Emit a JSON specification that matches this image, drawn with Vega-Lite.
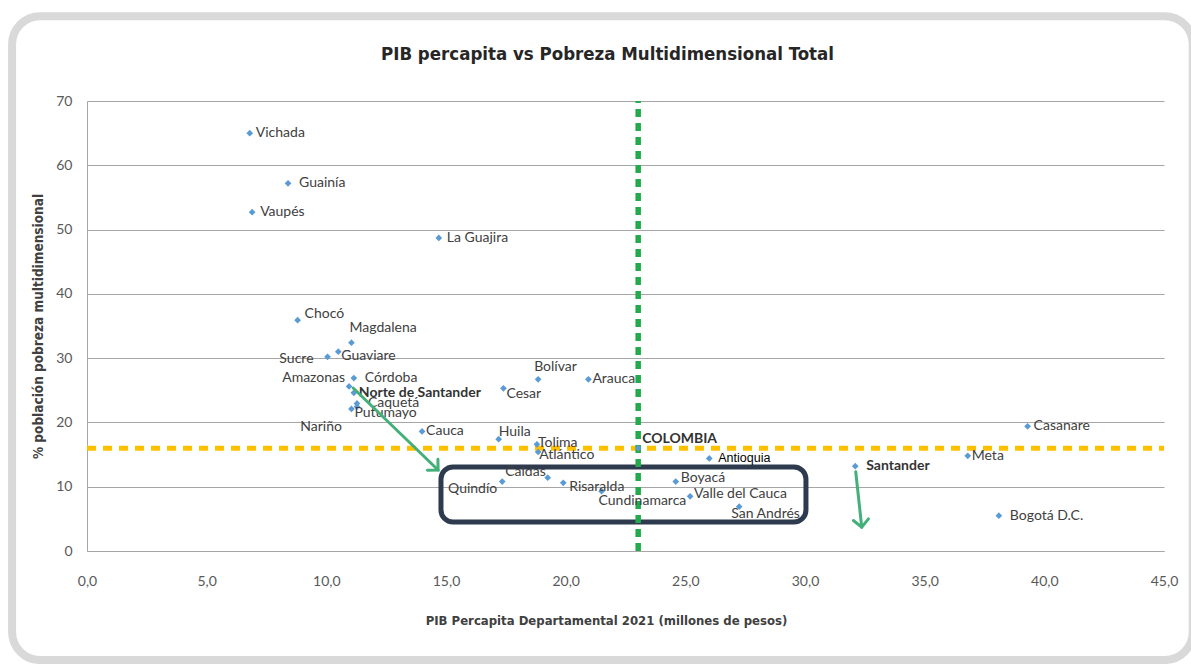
{
  "$schema": "https://vega.github.io/schema/vega-lite/v6.json",
  "width": 1077,
  "height": 450,
  "autosize": {"type": "none"},
  "padding": {"left": 87, "top": 101, "right": 27, "bottom": 113},
  "background": "white",
  "title": {
    "text": "PIB percapita vs Pobreza Multidimensional Total",
    "font": "Liberation Sans Narrow, DejaVu Sans Condensed, sans-serif",
    "fontSize": 18.5,
    "fontWeight": "bold",
    "color": "#262626",
    "anchor": "middle",
    "frame": "group",
    "dx": -18,
    "offset": -51
  },
  "datasets": {
    "deptos": [
      {"depto": "Vichada", "pib": 6.8, "ipm": 65.0},
      {"depto": "Guainía", "pib": 8.4, "ipm": 57.2},
      {"depto": "Vaupés", "pib": 6.9, "ipm": 52.7},
      {"depto": "La Guajira", "pib": 14.7, "ipm": 48.7},
      {"depto": "Chocó", "pib": 8.8, "ipm": 35.9},
      {"depto": "Magdalena", "pib": 11.05, "ipm": 32.4},
      {"depto": "Guaviare", "pib": 10.5, "ipm": 31.0},
      {"depto": "Sucre", "pib": 10.05, "ipm": 30.2},
      {"depto": "Córdoba", "pib": 11.15, "ipm": 26.9},
      {"depto": "Amazonas", "pib": 10.95, "ipm": 25.6},
      {"depto": "Norte de Santander", "pib": 11.15, "ipm": 24.6},
      {"depto": "Caquetá", "pib": 11.28, "ipm": 22.95},
      {"depto": "Nariño", "pib": 11.28, "ipm": 22.45},
      {"depto": "Putumayo", "pib": 11.05, "ipm": 22.1},
      {"depto": "Cauca", "pib": 14.0, "ipm": 18.6},
      {"depto": "Huila", "pib": 17.2, "ipm": 17.4},
      {"depto": "Bolívar", "pib": 18.85, "ipm": 26.7},
      {"depto": "Cesar", "pib": 17.4, "ipm": 25.3},
      {"depto": "Arauca", "pib": 20.95, "ipm": 26.7},
      {"depto": "Tolima", "pib": 18.8, "ipm": 16.6},
      {"depto": "Atlántico", "pib": 18.85, "ipm": 15.4},
      {"depto": "Quindío", "pib": 17.35, "ipm": 10.8},
      {"depto": "Caldas", "pib": 19.25, "ipm": 11.4},
      {"depto": "Risaralda", "pib": 19.9, "ipm": 10.6},
      {"depto": "Cundinamarca", "pib": 21.5, "ipm": 9.3},
      {"depto": "COLOMBIA", "pib": 23.03, "ipm": 16.0},
      {"depto": "Boyacá", "pib": 24.6, "ipm": 10.8},
      {"depto": "Valle del Cauca", "pib": 25.2, "ipm": 8.5},
      {"depto": "Antioquia", "pib": 26.0, "ipm": 14.4},
      {"depto": "San Andrés", "pib": 27.25, "ipm": 6.9},
      {"depto": "Santander", "pib": 32.1, "ipm": 13.2},
      {"depto": "Meta", "pib": 36.8, "ipm": 14.8},
      {"depto": "Casanare", "pib": 39.3, "ipm": 19.4},
      {"depto": "Bogotá D.C.", "pib": 38.1, "ipm": 5.5}
    ],
    "flechas": [
      {"flecha": "Norte de Santander", "extremo": "inicio", "pib": 11.12, "ipm": 25.35},
      {"flecha": "Norte de Santander", "extremo": "fin", "pib": 14.67, "ipm": 12.6},
      {"flecha": "Santander", "extremo": "inicio", "pib": 32.12, "ipm": 12.33},
      {"flecha": "Santander", "extremo": "fin", "pib": 32.37, "ipm": 3.7}
    ],
    "recuadro": [
      {"pib": 14.79, "ipm": 13.07, "pib2": 30.04, "ipm2": 4.51}
    ],
    "marco": [
      {"pib": -3.13, "ipm": 83.2, "pib2": 46.2, "ipm2": -16.96}
    ]
  },
  "data": {"name": "deptos"},
  "encoding": {
    "x": {
      "field": "pib", "type": "quantitative",
      "scale": {"domain": [0, 45], "nice": false},
      "axis": {
        "values": [0, 5, 10, 15, 20, 25, 30, 35, 40, 45],
        "labelExpr": "replace(format(datum.value, '.1f'), '.', ',')",
        "labelFlush": false,
        "grid": false, "ticks": false,
        "domainColor": "#a6a6a6", "domainWidth": 1,
        "labelFont": "Lato", "labelFontSize": 14, "labelColor": "#595959",
        "labelPadding": 23,
        "title": "PIB Percapita Departamental 2021 (millones de pesos)",
        "titleFont": "Liberation Sans Narrow, DejaVu Sans Condensed, sans-serif",
        "titleFontSize": 13, "titleFontWeight": "bold", "titleColor": "#404040",
        "titlePadding": 26, "titleX": 519
      }
    },
    "y": {
      "field": "ipm", "type": "quantitative",
      "scale": {"domain": [0, 70], "nice": false},
      "axis": {
        "values": [0, 10, 20, 30, 40, 50, 60, 70],
        "grid": true, "gridColor": "#a6a6a6", "gridWidth": 1,
        "ticks": false,
        "domainColor": "#a6a6a6", "domainWidth": 1,
        "labelFont": "Lato", "labelFontSize": 14, "labelColor": "#595959",
        "labelPadding": 15,
        "title": "% población pobreza multidimensional",
        "titleFont": "Liberation Sans Narrow, DejaVu Sans Condensed, sans-serif",
        "titleFontSize": 13.5, "titleFontWeight": "bold", "titleColor": "#404040",
        "titlePadding": 10
      }
    }
  },
  "layer": [
    {
      "data": {"name": "marco"},
      "mark": {"type": "rect", "filled": false, "fill": "transparent", "stroke": "#d9d9d9", "strokeWidth": 8, "cornerRadius": 28, "clip": false},
      "encoding": {"x2": {"field": "pib2"}, "y2": {"field": "ipm2"}}
    },
    {
      "data": {"name": "recuadro"},
      "mark": {"type": "rect", "filled": false, "fill": "transparent", "stroke": "#2e3a4e", "strokeWidth": 5, "cornerRadius": 12},
      "encoding": {"x2": {"field": "pib2"}, "y2": {"field": "ipm2"}}
    },
    {
      "transform": [{"filter": "datum.depto === 'COLOMBIA'"}],
      "mark": {"type": "rule", "color": "#FFC000", "strokeWidth": 5, "strokeDash": [9, 7]},
      "encoding": {
        "x": {"datum": 0, "type": "quantitative", "axis": {"title": "PIB Percapita Departamental 2021 (millones de pesos)"}},
        "x2": {"datum": 45}
      }
    },
    {
      "transform": [{"filter": "datum.depto === 'COLOMBIA'"}],
      "mark": {"type": "rule", "color": "#22AA4C", "strokeWidth": 5.5, "strokeDash": [8, 6]},
      "encoding": {
        "y": {"datum": 0, "type": "quantitative", "axis": {"title": "% población pobreza multidimensional"}},
        "y2": {"datum": 70}
      }
    },
    {
      "mark": {"type": "point", "shape": "diamond", "filled": true, "size": 45, "color": "#5B9BD5", "opacity": 1}
    },
    {"transform": [{"filter": {"field": "depto", "oneOf": ["Vichada", "Casanare"]}}], "mark": {"type": "text", "align": "left", "dx": 6, "dy": 0}, "encoding": {"text": {"field": "depto"}}},
    {"transform": [{"filter": {"field": "depto", "oneOf": ["Vaupés", "La Guajira"]}}], "mark": {"type": "text", "align": "left", "dx": 8, "dy": 0}, "encoding": {"text": {"field": "depto"}}},
    {"transform": [{"filter": {"field": "depto", "oneOf": ["Guainía", "Córdoba", "Caquetá", "Bogotá D.C."]}}], "mark": {"type": "text", "align": "left", "dx": 11, "dy": 0}, "encoding": {"text": {"field": "depto"}}},
    {"transform": [{"filter": {"field": "depto", "oneOf": ["Cauca", "Arauca", "Meta"]}}], "mark": {"type": "text", "align": "left", "dx": 4, "dy": 0}, "encoding": {"text": {"field": "depto"}}},
    {"transform": [{"filter": {"field": "depto", "oneOf": ["Chocó"]}}], "mark": {"type": "text", "align": "left", "dx": 7, "dy": -6}, "encoding": {"text": {"field": "depto"}}},
    {"transform": [{"filter": {"field": "depto", "oneOf": ["Magdalena"]}}], "mark": {"type": "text", "align": "left", "dx": -2, "dy": -15}, "encoding": {"text": {"field": "depto"}}},
    {"transform": [{"filter": {"field": "depto", "oneOf": ["Guaviare", "Putumayo"]}}], "mark": {"type": "text", "align": "left", "dx": 3, "dy": 4}, "encoding": {"text": {"field": "depto"}}},
    {"transform": [{"filter": {"field": "depto", "oneOf": ["Huila"]}}], "mark": {"type": "text", "align": "left", "dx": 0, "dy": -7}, "encoding": {"text": {"field": "depto"}}},
    {"transform": [{"filter": {"field": "depto", "oneOf": ["Bolívar"]}}], "mark": {"type": "text", "align": "left", "dx": -4, "dy": -12}, "encoding": {"text": {"field": "depto"}}},
    {"transform": [{"filter": {"field": "depto", "oneOf": ["Cesar"]}}], "mark": {"type": "text", "align": "left", "dx": 3, "dy": 6}, "encoding": {"text": {"field": "depto"}}},
    {"transform": [{"filter": {"field": "depto", "oneOf": ["Tolima"]}}], "mark": {"type": "text", "align": "left", "dx": 1, "dy": -1}, "encoding": {"text": {"field": "depto"}}},
    {"transform": [{"filter": {"field": "depto", "oneOf": ["Atlántico"]}}], "mark": {"type": "text", "align": "left", "dx": 1, "dy": 3}, "encoding": {"text": {"field": "depto"}}},
    {"transform": [{"filter": {"field": "depto", "oneOf": ["Risaralda"]}}], "mark": {"type": "text", "align": "left", "dx": 6, "dy": 4}, "encoding": {"text": {"field": "depto"}}},
    {"transform": [{"filter": {"field": "depto", "oneOf": ["Cundinamarca"]}}], "mark": {"type": "text", "align": "left", "dx": -3, "dy": 10}, "encoding": {"text": {"field": "depto"}}},
    {"transform": [{"filter": {"field": "depto", "oneOf": ["Boyacá"]}}], "mark": {"type": "text", "align": "left", "dx": 5, "dy": -4}, "encoding": {"text": {"field": "depto"}}},
    {"transform": [{"filter": {"field": "depto", "oneOf": ["Valle del Cauca"]}}], "mark": {"type": "text", "align": "left", "dx": 4, "dy": -2}, "encoding": {"text": {"field": "depto"}}},
    {"transform": [{"filter": {"field": "depto", "oneOf": ["San Andrés"]}}], "mark": {"type": "text", "align": "left", "dx": -8, "dy": 7}, "encoding": {"text": {"field": "depto"}}},
    {"transform": [{"filter": {"field": "depto", "oneOf": ["Sucre"]}}], "mark": {"type": "text", "align": "right", "dx": -14, "dy": 2}, "encoding": {"text": {"field": "depto"}}},
    {"transform": [{"filter": {"field": "depto", "oneOf": ["Amazonas"]}}], "mark": {"type": "text", "align": "right", "dx": -4, "dy": -8}, "encoding": {"text": {"field": "depto"}}},
    {"transform": [{"filter": {"field": "depto", "oneOf": ["Nariño"]}}], "mark": {"type": "text", "align": "right", "dx": -15, "dy": 20}, "encoding": {"text": {"field": "depto"}}},
    {"transform": [{"filter": {"field": "depto", "oneOf": ["Quindío"]}}], "mark": {"type": "text", "align": "right", "dx": -5, "dy": 7}, "encoding": {"text": {"field": "depto"}}},
    {"transform": [{"filter": {"field": "depto", "oneOf": ["Caldas"]}}], "mark": {"type": "text", "align": "right", "dx": -2, "dy": -6}, "encoding": {"text": {"field": "depto"}}},
    {"transform": [{"filter": {"field": "depto", "oneOf": ["Norte de Santander"]}}], "mark": {"type": "text", "align": "left", "dx": 5, "dy": 0, "fontWeight": "bold", "color": "#333333"}, "encoding": {"text": {"field": "depto"}}},
    {"transform": [{"filter": {"field": "depto", "oneOf": ["COLOMBIA"]}}], "mark": {"type": "text", "align": "left", "dx": 4, "dy": -9, "fontWeight": "bold", "color": "#333333"}, "encoding": {"text": {"field": "depto"}}},
    {"transform": [{"filter": {"field": "depto", "oneOf": ["Santander"]}}], "mark": {"type": "text", "align": "left", "dx": 11, "dy": 0, "fontWeight": "bold", "color": "#333333"}, "encoding": {"text": {"field": "depto"}}},
    {"transform": [{"filter": {"field": "depto", "oneOf": ["Antioquia"]}}], "mark": {"type": "text", "align": "left", "dx": 9, "dy": 0, "font": "Liberation Sans", "fontSize": 12.5, "color": "#000000"}, "encoding": {"text": {"field": "depto"}}},
    {
      "data": {"name": "flechas"},
      "mark": {"type": "line", "color": "#43B07A", "strokeWidth": 3, "strokeCap": "round"},
      "encoding": {"detail": {"field": "flecha"}}
    },
    {
      "data": {"name": "flechas"},
      "transform": [{"filter": "datum.flecha === 'Norte de Santander' && datum.extremo === 'fin'"}],
      "mark": {"type": "point", "shape": "M-1,-1L0,0L1,-1", "filled": false, "size": 230, "angle": 314, "stroke": "#43B07A", "strokeWidth": 3, "strokeCap": "round", "opacity": 1}
    },
    {
      "data": {"name": "flechas"},
      "transform": [{"filter": "datum.flecha === 'Santander' && datum.extremo === 'fin'"}],
      "mark": {"type": "point", "shape": "M-1,-1L0,0L1,-1", "filled": false, "size": 230, "angle": 354, "stroke": "#43B07A", "strokeWidth": 3, "strokeCap": "round", "opacity": 1}
    }
  ],
  "config": {
    "view": {"stroke": null},
    "text": {"font": "Lato", "fontSize": 14, "color": "#404040", "baseline": "middle"}
  }
}
